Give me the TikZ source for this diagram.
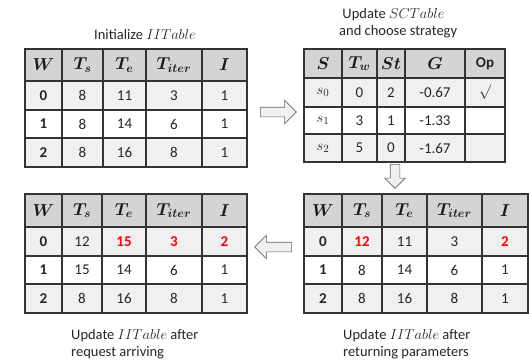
\documentclass[tikz,border=0pt]{standalone}
\usepackage{amsmath,bm}
\usepackage{fontspec}
\setmainfont{Carlito}
\usetikzlibrary{shapes.arrows}

\tikzset{
  hdr/.style={draw=black!80,line width=1.2pt,fill=black!17},
  odd/.style={draw=black!80,line width=1.2pt,fill=black!6},
  even/.style={draw=black!80,line width=1.2pt,fill=white},
  every node/.style={font=\fontsize{15}{17}\selectfont,text=black!85,inner sep=1pt},
  head/.style={font=\fontsize{16.5}{18}\selectfont\boldmath,text=black!90},
  upd/.style={text=red,font=\fontsize{15}{17}\selectfont\bfseries},
  caption/.style={align=left,anchor=west,font=\fontsize{14.5}{17.5}\selectfont},
  blockarrow/.style={single arrow,draw=black!60,fill=black!6,line width=0.6pt,
    inner sep=4.5pt,single arrow head extend=7pt}
}

\begin{document}
\begin{tikzpicture}[x=1pt,y=-1pt]
    \useasboundingbox (0,0) rectangle (529,360);
    % Initialize IITable
    \node[font=\fontsize{14.5}{17.5}\selectfont] (iit-cap) at (145,35) {Initialize $IITable$};
    \draw[hdr] (25,49) rectangle (62,81); \node[head] (iit-h1) at (43.5,65) {$\bm{W}$};
    \draw[hdr] (62,49) rectangle (103,81); \node[head] (iit-h2) at (82.5,65) {$\bm{T_s}$};
    \draw[hdr] (103,49) rectangle (146,81); \node[head] (iit-h3) at (124.5,65) {$\bm{T_e}$};
    \draw[hdr] (146,49) rectangle (202,81); \node[head] (iit-h4) at (174,65) {$\bm{T_{iter}}$};
    \draw[hdr] (202,49) rectangle (247,81); \node[head] (iit-h5) at (224.5,65) {$\bm{I}$};
    %
    \draw[odd] (25,81) rectangle (62,110); \node (iit-01) at (43.5,95.5) {\textbf{0}};
    \draw[odd] (62,81) rectangle (103,110); \node (iit-02) at (82.5,95.5) {8};
    \draw[odd] (103,81) rectangle (146,110); \node (iit-03) at (124.5,95.5) {11};
    \draw[odd] (146,81) rectangle (202,110); \node (iit-04) at (174,95.5) {3};
    \draw[odd] (202,81) rectangle (247,110); \node (iit-05) at (224.5,95.5) {1};
    %
    \draw[even] (25,110) rectangle (62,138); \node (iit-11) at (43.5,124) {\textbf{1}};
    \draw[even] (62,110) rectangle (103,138); \node (iit-12) at (82.5,124) {8};
    \draw[even] (103,110) rectangle (146,138); \node (iit-13) at (124.5,124) {14};
    \draw[even] (146,110) rectangle (202,138); \node (iit-14) at (174,124) {6};
    \draw[even] (202,110) rectangle (247,138); \node (iit-15) at (224.5,124) {1};
    %
    \draw[odd] (25,138) rectangle (62,167); \node (iit-21) at (43.5,152.5) {\textbf{2}};
    \draw[odd] (62,138) rectangle (103,167); \node (iit-22) at (82.5,152.5) {8};
    \draw[odd] (103,138) rectangle (146,167); \node (iit-23) at (124.5,152.5) {16};
    \draw[odd] (146,138) rectangle (202,167); \node (iit-24) at (174,152.5) {8};
    \draw[odd] (202,138) rectangle (247,167); \node (iit-25) at (224.5,152.5) {1};

    % Update SCTable
    \node[caption] (sct-cap) at (338,23) {\ Update $SCTable$\\and choose strategy};
    \draw[hdr] (304,49) rectangle (342,78); \node[head] (sct-h1) at (323,63.5) {$\bm{S}$};
    \draw[hdr] (342,49) rectangle (377,78); \node[head] (sct-h2) at (359.5,63.5) {$\bm{T_w}$};
    \draw[hdr] (377,49) rectangle (405,78); \node[head] (sct-h3) at (391,63.5) {$\bm{St}$};
    \draw[hdr] (405,49) rectangle (465,78); \node[head] (sct-h4) at (435,63.5) {$\bm{G}$};
    \draw[hdr] (465,49) rectangle (505,78); \node (sct-h5) at (485,63.5) {\textbf{Op}};
    %
    \draw[odd] (304,78) rectangle (342,107); \node (sct-01) at (323,92.5) {$s_0$};
    \draw[odd] (342,78) rectangle (377,107); \node (sct-02) at (359.5,92.5) {0};
    \draw[odd] (377,78) rectangle (405,107); \node (sct-03) at (391,92.5) {2};
    \draw[odd] (405,78) rectangle (465,107); \node (sct-04) at (435,92.5) {-0.67};
    \draw[odd] (465,78) rectangle (505,107); \node (sct-05) at (485,92.5) {$\surd$};
    %
    \draw[even] (304,107) rectangle (342,134); \node (sct-11) at (323,120.5) {$s_1$};
    \draw[even] (342,107) rectangle (377,134); \node (sct-12) at (359.5,120.5) {3};
    \draw[even] (377,107) rectangle (405,134); \node (sct-13) at (391,120.5) {1};
    \draw[even] (405,107) rectangle (465,134); \node (sct-14) at (435,120.5) {-1.33};
    \draw[even] (465,107) rectangle (505,134);
    %
    \draw[odd] (304,134) rectangle (342,162); \node (sct-21) at (323,148) {$s_2$};
    \draw[odd] (342,134) rectangle (377,162); \node (sct-22) at (359.5,148) {5};
    \draw[odd] (377,134) rectangle (405,162); \node (sct-23) at (391,148) {0};
    \draw[odd] (405,134) rectangle (465,162); \node (sct-24) at (435,148) {-1.67};
    \draw[odd] (465,134) rectangle (505,162);

    % Update IITable after returning parameters
    \draw[hdr] (304,194) rectangle (342,227); \node[head] (ret-h1) at (323,210.5) {$\bm{W}$};
    \draw[hdr] (342,194) rectangle (382,227); \node[head] (ret-h2) at (362,210.5) {$\bm{T_s}$};
    \draw[hdr] (382,194) rectangle (427,227); \node[head] (ret-h3) at (404.5,210.5) {$\bm{T_e}$};
    \draw[hdr] (427,194) rectangle (482,227); \node[head] (ret-h4) at (454.5,210.5) {$\bm{T_{iter}}$};
    \draw[hdr] (482,194) rectangle (528,227); \node[head] (ret-h5) at (505,210.5) {$\bm{I}$};
    %
    \draw[odd] (304,227) rectangle (342,256); \node (ret-01) at (323,241.5) {\textbf{0}};
    \draw[odd] (342,227) rectangle (382,256); \node[upd] (ret-02) at (362,241.5) {12};
    \draw[odd] (382,227) rectangle (427,256); \node (ret-03) at (404.5,241.5) {11};
    \draw[odd] (427,227) rectangle (482,256); \node (ret-04) at (454.5,241.5) {3};
    \draw[odd] (482,227) rectangle (528,256); \node[upd] (ret-05) at (505,241.5) {2};
    %
    \draw[even] (304,256) rectangle (342,284); \node (ret-11) at (323,270) {\textbf{1}};
    \draw[even] (342,256) rectangle (382,284); \node (ret-12) at (362,270) {8};
    \draw[even] (382,256) rectangle (427,284); \node (ret-13) at (404.5,270) {14};
    \draw[even] (427,256) rectangle (482,284); \node (ret-14) at (454.5,270) {6};
    \draw[even] (482,256) rectangle (528,284); \node (ret-15) at (505,270) {1};
    %
    \draw[odd] (304,284) rectangle (342,313); \node (ret-21) at (323,298.5) {\textbf{2}};
    \draw[odd] (342,284) rectangle (382,313); \node (ret-22) at (362,298.5) {8};
    \draw[odd] (382,284) rectangle (427,313); \node (ret-23) at (404.5,298.5) {16};
    \draw[odd] (427,284) rectangle (482,313); \node (ret-24) at (454.5,298.5) {8};
    \draw[odd] (482,284) rectangle (528,313); \node (ret-25) at (505,298.5) {1};
    \node[caption] (ret-cap) at (342,344) {Update $IITable$ after\\returning parameters};

    % Update IITable after request arriving
    \draw[hdr] (25,194) rectangle (62,227); \node[head] (arr-h1) at (43.5,210.5) {$\bm{W}$};
    \draw[hdr] (62,194) rectangle (102,227); \node[head] (arr-h2) at (82,210.5) {$\bm{T_s}$};
    \draw[hdr] (102,194) rectangle (146,227); \node[head] (arr-h3) at (124,210.5) {$\bm{T_e}$};
    \draw[hdr] (146,194) rectangle (202,227); \node[head] (arr-h4) at (174,210.5) {$\bm{T_{iter}}$};
    \draw[hdr] (202,194) rectangle (247,227); \node[head] (arr-h5) at (224.5,210.5) {$\bm{I}$};
    %
    \draw[odd] (25,227) rectangle (62,256); \node (arr-01) at (43.5,241.5) {\textbf{0}};
    \draw[odd] (62,227) rectangle (102,256); \node (arr-02) at (82,241.5) {12};
    \draw[odd] (102,227) rectangle (146,256); \node[upd] (arr-03) at (124,241.5) {15};
    \draw[odd] (146,227) rectangle (202,256); \node[upd] (arr-04) at (174,241.5) {3};
    \draw[odd] (202,227) rectangle (247,256); \node[upd] (arr-05) at (224.5,241.5) {2};
    %
    \draw[even] (25,256) rectangle (62,284); \node (arr-11) at (43.5,270) {\textbf{1}};
    \draw[even] (62,256) rectangle (102,284); \node (arr-12) at (82,270) {15};
    \draw[even] (102,256) rectangle (146,284); \node (arr-13) at (124,270) {14};
    \draw[even] (146,256) rectangle (202,284); \node (arr-14) at (174,270) {6};
    \draw[even] (202,256) rectangle (247,284); \node (arr-15) at (224.5,270) {1};
    %
    \draw[odd] (25,284) rectangle (62,313); \node (arr-21) at (43.5,298.5) {\textbf{2}};
    \draw[odd] (62,284) rectangle (102,313); \node (arr-22) at (82,298.5) {8};
    \draw[odd] (102,284) rectangle (146,313); \node (arr-23) at (124,298.5) {16};
    \draw[odd] (146,284) rectangle (202,313); \node (arr-24) at (174,298.5) {8};
    \draw[odd] (202,284) rectangle (247,313); \node (arr-25) at (224.5,298.5) {1};
    \node[caption] (arr-cap) at (70,344) {Update $IITable$ after\\request arriving};

    % block arrows between the steps
    \node[blockarrow,minimum height=36pt] (step-a) at (276,112) {};
    \node[blockarrow,minimum height=24pt,single arrow head extend=5.5pt,shape border rotate=270] (step-b) at (395,174) {};
    \node[blockarrow,minimum height=37pt,shape border rotate=180] (step-c) at (275.5,247) {};
\end{tikzpicture}
\end{document}
